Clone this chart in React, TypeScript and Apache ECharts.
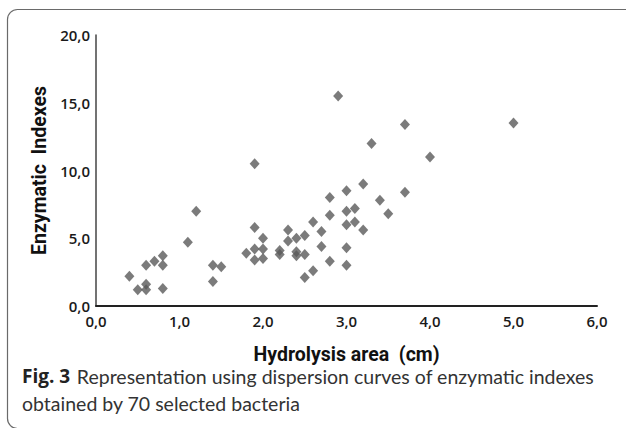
import React, { useEffect, useRef } from "react";
import * as echarts from "echarts";

const xTicks = [0, 1, 2, 3, 4, 5, 6];
const yTicks = [0, 5, 10, 15, 20];

const hydrolysisArea = [
  0.4, 0.5, 0.6, 0.6, 0.6, 0.7, 0.8, 0.8, 0.8, 1.1, 1.2, 1.4, 1.4, 1.5,
  1.8, 1.9, 1.9, 1.9, 1.9, 2.0, 2.0, 2.0, 2.2, 2.2, 2.3, 2.3, 2.4, 2.4,
  2.4, 2.5, 2.5, 2.5, 2.6, 2.6, 2.7, 2.7, 2.8, 2.8, 2.8, 2.9, 3.0, 3.0,
  3.0, 3.0, 3.0, 3.1, 3.1, 3.2, 3.2, 3.3, 3.4, 3.5, 3.7, 3.7, 4.0, 5.0,
];
const enzymaticIndex = [
  2.2, 1.2, 1.2, 1.6, 3.0, 3.3, 3.7, 3.0, 1.3, 4.7, 7.0, 3.0, 1.8, 2.9,
  3.9, 5.8, 4.2, 3.4, 10.5, 5.0, 4.2, 3.5, 4.1, 3.8, 5.6, 4.8, 5.0, 4.0,
  3.7, 5.2, 3.8, 2.1, 2.6, 6.2, 5.5, 4.4, 8.0, 6.7, 3.3, 15.5, 8.5, 7.0,
  6.0, 4.3, 3.0, 7.2, 6.2, 9.0, 5.6, 12.0, 7.8, 6.8, 13.4, 8.4, 11.0, 13.5,
];

const xTitle = "Hydrolysis area  (cm)";
const yTitle = "Enzymatic  Indexes";
const captionBold = "Fig. 3";
const captionLine1 = "Representation using dispersion curves of enzymatic indexes";
const captionLine2 = "obtained by 70 selected bacteria";

const fmt = (v: number) => v.toFixed(1).replace(".", ",");

export default function App() {
  const ref = useRef<HTMLDivElement>(null);
  useEffect(() => {
    document.body.style.margin = "0";
    const chart = echarts.init(ref.current!, undefined, { renderer: "svg" });
    const data = hydrolysisArea.map((x, i) => [x, enzymaticIndex[i]]);
    const labelFont = {
      fontFamily: "Open Sans",
      fontWeight: 600,
      fontSize: 15,
      color: "#1a1a1a",
    };
    const titleFont = {
      fontFamily: "Roboto",
      fontWeight: "bold",
      fontSize: 19.5,
      color: "#111",
    };
    chart.setOption({
      animation: false,
      backgroundColor: "#fff",
      grid: { left: 96, right: 29, top: 35, bottom: 122 },
      xAxis: {
        type: "value",
        min: xTicks[0],
        max: xTicks[xTicks.length - 1],
        interval: 1,
        name: xTitle,
        nameLocation: "middle",
        nameGap: 38,
        nameTextStyle: titleFont,
        axisLine: { show: true, lineStyle: { color: "#222", width: 2 } },
        axisTick: { show: false },
        splitLine: { show: false },
        axisLabel: { ...labelFont, margin: 7, formatter: fmt },
      },
      yAxis: {
        type: "value",
        min: yTicks[0],
        max: yTicks[yTicks.length - 1],
        interval: 5,
        name: yTitle,
        nameLocation: "middle",
        nameGap: 44,
        nameRotate: 90,
        nameTextStyle: titleFont,
        axisLine: { show: true, lineStyle: { color: "#444", width: 1.5 } },
        axisTick: { show: false },
        splitLine: { show: false },
        axisLabel: { ...labelFont, margin: 6, formatter: fmt },
      },
      series: [
        {
          type: "scatter",
          data,
          symbol: "diamond",
          symbolSize: [10, 11],
          itemStyle: { color: "#5a5a5a" },
        },
      ],
      graphic: [
        {
          type: "rect",
          shape: { x: 7.5, y: 9.5, width: 640, height: 419, r: 10 },
          style: { fill: "none", stroke: "#6a6a6a", lineWidth: 1.2 },
          silent: true,
        },
        {
          type: "text",
          left: 22,
          top: 366,
          style: {
            text: `{b|${captionBold}}  {n|${captionLine1}}`,
            rich: {
              b: {
                fontFamily: "Open Sans",
                fontWeight: "bold",
                fontSize: 19,
                fill: "#222",
              },
              n: {
                fontFamily: "Lato",
                fontSize: 19.5,
                fill: "#333",
              },
            },
          },
        },
        {
          type: "text",
          left: 22,
          top: 393,
          style: {
            text: captionLine2,
            fontFamily: "Lato",
            fontSize: 19.5,
            fill: "#333",
          },
        },
      ],
    });
    return () => chart.dispose();
  }, []);
  return <div ref={ref} style={{ width: 626, height: 428 }} />;
}
